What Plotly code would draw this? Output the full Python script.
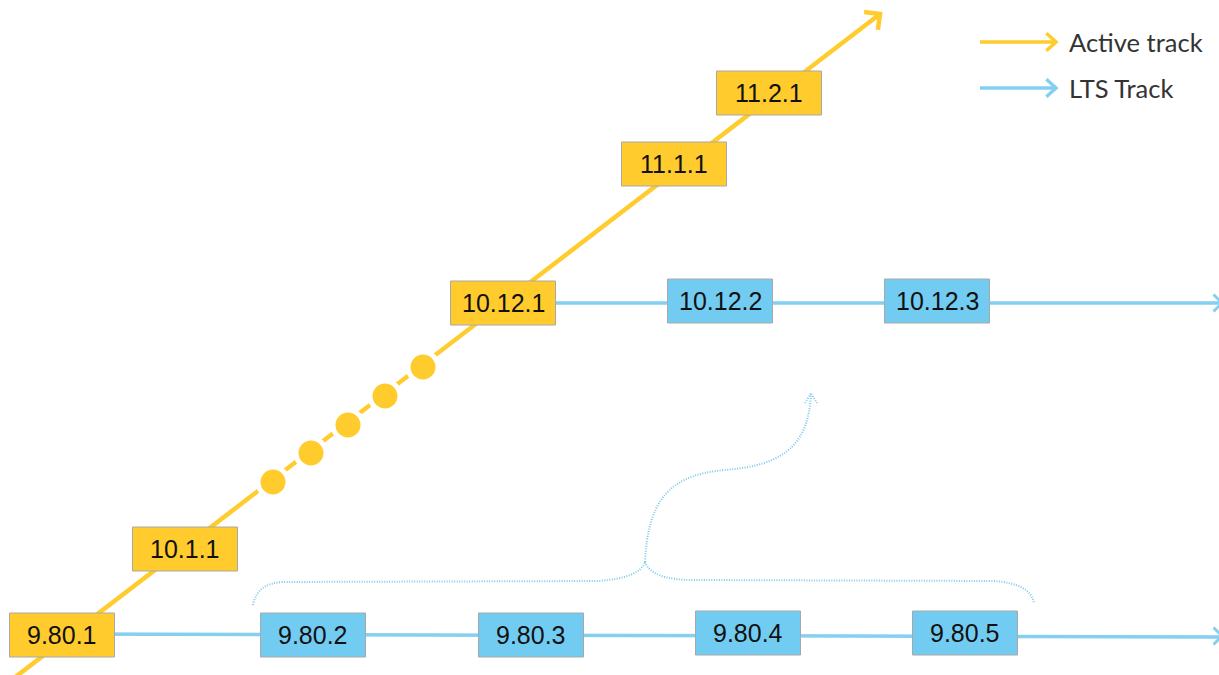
import math
import plotly.graph_objects as go

# ---------------- data ----------------
active_labels = ["9.80.1", "10.1.1", "10.12.1", "11.1.1", "11.2.1"]
lts_labels_980 = ["9.80.2", "9.80.3", "9.80.4", "9.80.5"]
lts_labels_1012 = ["10.12.2", "10.12.3"]
legend_labels = ["Active track", "LTS Track"]

# ---------------- layout (diagram space = pixel grid) ----------------
W, H = 1219, 675
YELLOW = "#FFCB2D"
BLUE_BOX = "#72CCF2"
BLUE_LINE = "#85CFF0"
BORDER = "#A8A8A8"

active_pos = [(62, 635), (185, 549), (503, 303), (674, 164), (769, 93)]
lts980_pos = [(313, 635), (531, 635), (748, 633), (965, 633)]
lts1012_pos = [(720, 301), (937, 301)]
dot_pos = [(273, 482), (311, 453), (348, 425), (385, 396), (423, 367)]
box_w, box_h = 105, 44
diag_start, diag_end = (18, 675), (880, 14)

fig = go.Figure()


def chevron(tip, back_angle_deg, length, spread_deg):
    xs, ys = [], []
    for s in (spread_deg, -spread_deg):
        a = math.radians(back_angle_deg + s)
        xs.append(tip[0] + length * math.cos(a))
        ys.append(tip[1] + length * math.sin(a))
    return [xs[0], tip[0], xs[1]], [ys[0], tip[1], ys[1]]


def add_line(xs, ys, color, width, dash="solid"):
    fig.add_trace(go.Scatter(x=xs, y=ys, mode="lines",
                             line=dict(color=color, width=width, dash=dash),
                             hoverinfo="skip"))


# LTS lines
add_line([active_pos[0][0], W + 10], [634, 637], BLUE_LINE, 3.5)
add_line([active_pos[2][0], W + 10], [303, 303], BLUE_LINE, 3.5)
cx, cy = chevron((1222, 636), 180, 12, 45)
add_line(cx, cy, BLUE_LINE, 3)
cx, cy = chevron((1222, 303), 180, 12, 45)
add_line(cx, cy, BLUE_LINE, 3)

# Active track diagonal
dx, dy = diag_end[0] - diag_start[0], diag_end[1] - diag_start[1]
ang = math.degrees(math.atan2(-dy, -dx))
add_line([diag_start[0] - 15, diag_end[0]],
         [diag_start[1] - 15 * dy / dx, diag_end[1]], YELLOW, 4.5)
cx, cy = chevron(diag_end, ang, 16, 45)
add_line(cx, cy, YELLOW, 4.5)

# dots on the active track
fig.add_trace(go.Scatter(x=[p[0] for p in dot_pos], y=[p[1] for p in dot_pos],
                         mode="markers",
                         marker=dict(size=30, color=YELLOW,
                                     line=dict(color="white", width=5)),
                         hoverinfo="skip"))

# legend arrows
add_line([980, 1055], [42, 42], YELLOW, 3.5)
cx, cy = chevron((1056, 42), 180, 13, 42)
add_line(cx, cy, YELLOW, 3.5)
add_line([980, 1055], [88, 88], BLUE_LINE, 3.5)
cx, cy = chevron((1056, 88), 180, 13, 42)
add_line(cx, cy, BLUE_LINE, 3.5)

# dotted brace and curved arrow
brace = dict(type="path", xref="x", yref="y", layer="above",
             line=dict(color="#7FC8EA", width=2, dash="1px,1.5px"))
fig.add_shape(path="M 253,605 Q 257,583 283,582 L 598,581 Q 640,578 645,562", **brace)
fig.add_shape(path="M 645,562 Q 652,580 693,580 L 993,581 Q 1030,583 1034,603", **brace)
fig.add_shape(path="M 645,562 C 648,505 665,475 725,470 C 790,465 808,440 811,395", **brace)
fig.add_shape(path="M 805,403 L 811,393 L 817,403", **brace)

# boxes + labels
def add_box(label, pos, fill):
    x, y = pos
    fig.add_shape(type="rect", xref="x", yref="y", layer="above",
                  x0=x - box_w / 2, x1=x + box_w / 2,
                  y0=y - box_h / 2, y1=y + box_h / 2,
                  fillcolor=fill, line=dict(color=BORDER, width=1))
    fig.add_annotation(x=x, y=y, text=label, showarrow=False,
                       xanchor="center", yanchor="middle",
                       font=dict(family="Liberation Sans, Arial", size=25,
                                 color="#111111"))


for lab, pos in zip(active_labels, active_pos):
    add_box(lab, pos, YELLOW)
for lab, pos in zip(lts_labels_980, lts980_pos):
    add_box(lab, pos, BLUE_BOX)
for lab, pos in zip(lts_labels_1012, lts1012_pos):
    add_box(lab, pos, BLUE_BOX)

for lab, y in zip(legend_labels, [42, 88]):
    fig.add_annotation(x=1067, y=y, text=lab, showarrow=False,
                       xanchor="left", yanchor="middle",
                       font=dict(family="Lato, Open Sans", size=25.5,
                                 color="#333333"))

fig.update_layout(
    width=W, height=H,
    margin=dict(l=0, r=0, t=0, b=0),
    paper_bgcolor="white", plot_bgcolor="white",
    showlegend=False,
    xaxis=dict(range=[0, W], visible=False, fixedrange=True),
    yaxis=dict(range=[H, 0], visible=False, fixedrange=True),
)

fig.write_html("out.html", config={"displayModeBar": False},
               post_script="document.body.style.margin='0';"
                           "document.body.style.overflow='hidden';")
